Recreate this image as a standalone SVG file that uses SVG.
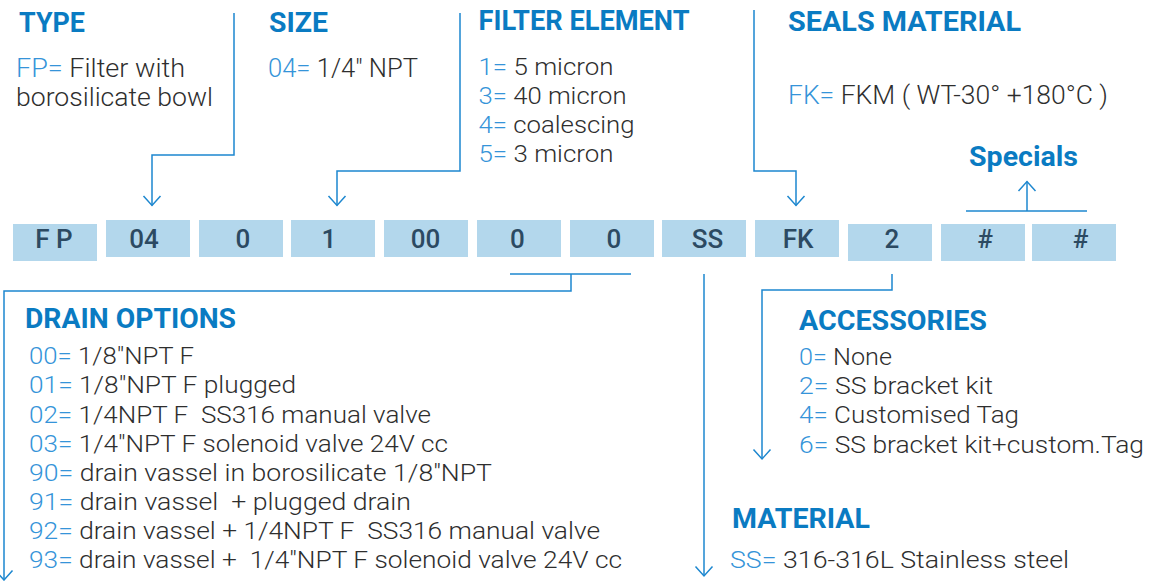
<svg xmlns="http://www.w3.org/2000/svg" width="1151" height="581" viewBox="0 0 1151 581">
<style>
text{white-space:pre;font-family:Roboto,"Liberation Sans",sans-serif}
.t{font-weight:700;font-size:27.5px;fill:#0a7bc2}
.b{font-weight:300;font-size:24.5px;fill:#2e2e2e}
.bl{font-weight:300;font-size:26px;fill:#2e2e2e}
.c{fill:#3594d9}
.box{fill:#b3d7ec}
.bt{font-weight:500;font-size:26px;fill:#2c4a62;text-anchor:middle}
.ln{fill:none;stroke:#1d87cf;stroke-width:1.5}
</style>
<defs>
<marker id="ar" viewBox="-11 -11 22 22" refX="0" refY="0" markerWidth="22" markerHeight="22" markerUnits="userSpaceOnUse" orient="auto">
<path d="M-9.5,-8.5 L0,0 L-9.5,8.5" fill="none" stroke="#1d87cf" stroke-width="1.5"/>
</marker>
</defs>

<g id="type">
<text class="t" x="19" y="32" textLength="66" lengthAdjust="spacingAndGlyphs">TYPE</text>
<text class="bl" x="16" y="77" textLength="169" lengthAdjust="spacingAndGlyphs"><tspan class="c">FP=</tspan> Filter with</text>
<text class="bl" x="16" y="106" textLength="197" lengthAdjust="spacingAndGlyphs">borosilicate bowl</text>
</g>
<g id="size">
<text class="t" x="269" y="32" textLength="59" lengthAdjust="spacingAndGlyphs">SIZE</text>
<text class="bl" x="268" y="77" textLength="150" lengthAdjust="spacingAndGlyphs"><tspan class="c">04=</tspan> 1/4″ NPT</text>
</g>
<g id="filter-element">
<text class="t" x="478.5" y="30" textLength="211" lengthAdjust="spacingAndGlyphs">FILTER ELEMENT</text>
<text class="b" x="478.5" y="75" textLength="135" lengthAdjust="spacingAndGlyphs"><tspan class="c">1=</tspan> 5 micron</text>
<text class="b" x="478.5" y="104" textLength="148" lengthAdjust="spacingAndGlyphs"><tspan class="c">3=</tspan> 40 micron</text>
<text class="b" x="478.5" y="133" textLength="156" lengthAdjust="spacingAndGlyphs"><tspan class="c">4=</tspan> coalescing</text>
<text class="b" x="478.5" y="162" textLength="135" lengthAdjust="spacingAndGlyphs"><tspan class="c">5=</tspan> 3 micron</text>
</g>
<g id="seals-material">
<text class="t" x="788" y="31" textLength="233" lengthAdjust="spacingAndGlyphs">SEALS MATERIAL</text>
<text class="bl" x="788" y="104" textLength="320" lengthAdjust="spacingAndGlyphs"><tspan class="c">FK=</tspan> FKM ( WT-30° +180°C )</text>
</g>
<g id="specials">
<text class="t" x="969" y="166" textLength="109" lengthAdjust="spacingAndGlyphs">Specials</text>
</g>

<g id="code-boxes">
<rect class="box" x="13" y="224" width="84" height="37"/>
<rect class="box" x="106" y="220" width="84" height="37"/>
<rect class="box" x="199" y="220" width="84" height="37"/>
<rect class="box" x="291" y="220" width="84" height="37"/>
<rect class="box" x="384" y="220" width="84" height="37"/>
<rect class="box" x="477" y="220" width="84" height="37"/>
<rect class="box" x="570" y="220" width="84" height="37"/>
<rect class="box" x="662" y="220" width="84" height="37"/>
<rect class="box" x="755" y="220" width="84" height="37"/>
<rect class="box" x="848" y="224" width="84" height="37"/>
<rect class="box" x="941" y="224" width="84" height="37"/>
<rect class="box" x="1032" y="224" width="84" height="37"/>
<text class="bt" x="54" y="248">F P</text>
<text class="bt" x="144" y="248">04</text>
<text class="bt" x="243" y="248">0</text>
<text class="bt" x="329" y="248">1</text>
<text class="bt" x="425.5" y="248">00</text>
<text class="bt" x="517.5" y="248">0</text>
<text class="bt" x="614" y="248">0</text>
<text class="bt" x="707.5" y="248">SS</text>
<text class="bt" x="798" y="248">FK</text>
<text class="bt" x="892" y="248">2</text>
<text class="bt" x="985" y="248">#</text>
<text class="bt" x="1080.5" y="248">#</text>
</g>

<g id="drain-options">
<text class="t" x="25" y="328" textLength="211" lengthAdjust="spacingAndGlyphs">DRAIN OPTIONS</text>
<text class="b" x="29" y="364.3" textLength="165" lengthAdjust="spacingAndGlyphs"><tspan class="c">00=</tspan> 1/8″NPT F</text>
<text class="b" x="29" y="393.4" textLength="267" lengthAdjust="spacingAndGlyphs"><tspan class="c">01=</tspan> 1/8″NPT F plugged</text>
<text class="b" x="29" y="422.6" textLength="402" lengthAdjust="spacingAndGlyphs"><tspan class="c">02=</tspan> 1/4NPT F  SS316 manual valve</text>
<text class="b" x="29" y="451.7" textLength="419" lengthAdjust="spacingAndGlyphs"><tspan class="c">03=</tspan> 1/4″NPT F solenoid valve 24V cc</text>
<text class="b" x="29" y="480.9" textLength="463" lengthAdjust="spacingAndGlyphs"><tspan class="c">90=</tspan> drain vassel in borosilicate 1/8″NPT</text>
<text class="b" x="29" y="510" textLength="382" lengthAdjust="spacingAndGlyphs"><tspan class="c">91=</tspan> drain vassel  + plugged drain</text>
<text class="b" x="29" y="539.2" textLength="571" lengthAdjust="spacingAndGlyphs"><tspan class="c">92=</tspan> drain vassel + 1/4NPT F  SS316 manual valve</text>
<text class="b" x="29" y="568.3" textLength="593" lengthAdjust="spacingAndGlyphs"><tspan class="c">93=</tspan> drain vassel +  1/4″NPT F solenoid valve 24V cc</text>
</g>

<g id="accessories">
<text class="t" x="799" y="330" textLength="188" lengthAdjust="spacingAndGlyphs">ACCESSORIES</text>
<text class="b" x="799" y="365" textLength="93" lengthAdjust="spacingAndGlyphs"><tspan class="c">0=</tspan> None</text>
<text class="b" x="799" y="394" textLength="194" lengthAdjust="spacingAndGlyphs"><tspan class="c">2=</tspan> SS bracket kit</text>
<text class="b" x="799" y="423" textLength="220" lengthAdjust="spacingAndGlyphs"><tspan class="c">4=</tspan> Customised Tag</text>
<text class="b" x="799" y="452.5" textLength="345" lengthAdjust="spacingAndGlyphs"><tspan class="c">6=</tspan> SS bracket kit+custom.Tag</text>
</g>

<g id="material">
<text class="t" x="732" y="528" textLength="138" lengthAdjust="spacingAndGlyphs">MATERIAL</text>
<text class="b" x="730" y="568.3" textLength="339" lengthAdjust="spacingAndGlyphs"><tspan class="c">SS=</tspan> 316-316L Stainless steel</text>
</g>

<g id="connectors">
<path class="ln" d="M234,13 V155 H152 V205.5" marker-end="url(#ar)"/>
<path class="ln" d="M460,13 V171 H337 V205.5" marker-end="url(#ar)"/>
<path class="ln" d="M754,10 V171 H796 V205.5" marker-end="url(#ar)"/>
<path class="ln" d="M966,211 H1087"/>
<path class="ln" d="M1027,211 V181.5" marker-end="url(#ar)"/>
<path class="ln" d="M510,274 H631"/>
<path class="ln" d="M571,274 V291 H4 V580" marker-end="url(#ar)"/>
<path class="ln" d="M704,274 V576" marker-end="url(#ar)"/>
<path class="ln" d="M892,274 V290 H762 V459" marker-end="url(#ar)"/>
</g>
</svg>
